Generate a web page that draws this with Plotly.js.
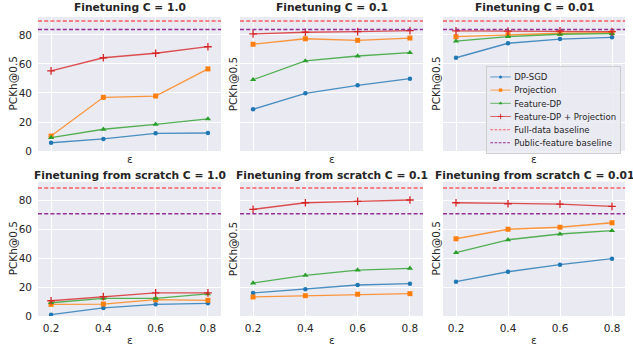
<!DOCTYPE html>
<html><head><meta charset="utf-8">
<script src="https://cdn.plot.ly/plotly-3.0.1.min.js"></script>
<style>html,body{margin:0;padding:0;background:#fff}</style>
</head><body><div id="chart" style="width:633px;height:347px"></div>
<script>
const epsilon = [0.2, 0.4, 0.6, 0.8];
const xTickLabels = ['0.2', '0.4', '0.6', '0.8'];
const yTicks = [0, 20, 40, 60, 80];
const panelTitles = ['Finetuning C = 1.0', 'Finetuning C = 0.1', 'Finetuning C = 0.01',
  'Finetuning from scratch C = 1.0', 'Finetuning from scratch C = 0.1', 'Finetuning from scratch C = 0.01'];
const seriesNames = ['DP-SGD', 'Projection', 'Feature-DP', 'Feature-DP + Projection'];
const dpSgd = [[5.7, 8.3, 12.2, 12.4], [28.8, 39.8, 45.3, 49.9], [64.3, 74.3, 77.2, 78.4],
  [0.9, 5.6, 8.1, 8.8], [16.0, 18.5, 21.5, 22.4], [23.8, 30.7, 35.6, 39.8]];
const projection = [[10.3, 37.0, 37.9, 56.6], [73.6, 77.4, 76.3, 77.9], [78.8, 80.2, 81.2, 81.6],
  [8.1, 8.3, 11.3, 10.9], [13.2, 14.1, 15.1, 15.5], [53.6, 60.2, 61.6, 64.7]];
const featureDp = [[9.2, 15.0, 18.4, 22.1], [49.2, 62.1, 65.5, 67.8], [75.7, 78.8, 80.5, 80.9],
  [9.2, 12.3, 12.3, 15.3], [22.9, 28.2, 31.9, 33.1], [43.9, 52.9, 56.9, 59.2]];
const featureDpProjection = [[55.2, 64.3, 67.4, 71.9], [80.7, 81.9, 82.3, 83.0], [82.8, 82.6, 82.8, 82.3],
  [10.6, 13.4, 16.0, 16.0], [74.0, 78.6, 79.6, 80.5], [78.6, 77.9, 77.7, 76.1]];
const fullDataBaseline = [89.6, 89.6, 89.6, 88.9, 88.9, 88.9];
const publicFeatureBaseline = [83.7, 83.7, 83.7, 70.9, 70.9, 70.9];

const W = 633, H = 347;
const colDom = [[38, 221], [240, 423], [443, 625]];
const rowDom = [[17, 151], [181.7, 316]];
const rowRange = [[0, 92.4], [0, 93.2]];
const lineColors = ['rgba(31,119,180,0.8)', 'rgba(255,127,14,0.8)', 'rgba(44,160,44,0.8)', 'rgba(214,39,40,0.8)'];
const markColors = ['#1f77b4', '#ff7f0e', '#2ca02c', '#d62728'];
const symbols = ['circle', 'square', 'triangle-up', 'cross-thin-open'];
const msizes = [4.5, 5, 5.5, 5.5];
const allSeries = [dpSgd, projection, featureDp, featureDpProjection];
const txt = '#262626';
const FONT = 'DejaVu Sans, sans-serif';

const data = [];
const shapes = [];
const annotations = [];
const layout = {
  width: W, height: H, margin: {l: 0, r: 0, t: 0, b: 0},
  paper_bgcolor: '#ffffff', plot_bgcolor: '#eaeaf2',
  font: {family: FONT, color: txt, size: 10.5},
  showlegend: true,
  legend: {x: 0.98, y: 0.6, xanchor: 'right', yanchor: 'top', bgcolor: 'rgba(234,234,242,0.8)',
    bordercolor: '#cccccc', borderwidth: 1.4, font: {size: 12.6, color: txt, family: FONT},
    itemwidth: 30, tracegroupgap: 0},
  shapes: shapes, annotations: annotations
};

for (let p = 0; p < 6; p++) {
  const row = Math.floor(p / 3), col = p % 3;
  const xa = 'xaxis' + (p + 1), ya = 'yaxis' + (p + 1);
  const xr = 'x' + (p + 1), yr = 'y' + (p + 1);
  layout[xa] = {
    domain: [colDom[col][0] / W, colDom[col][1] / W], range: [0.15, 0.85], anchor: yr,
    tickvals: epsilon, ticktext: xTickLabels, showticklabels: row === 1,
    gridcolor: '#ffffff', gridwidth: 1, zeroline: false, showline: false, ticks: '',
    ticklabelstandoff: 4, tickfont: {size: 10.5, color: txt}
  };
  layout[ya] = {
    domain: [1 - rowDom[row][1] / H, 1 - rowDom[row][0] / H], range: rowRange[row], anchor: xr,
    tickvals: yTicks, showticklabels: col === 0,
    gridcolor: '#ffffff', gridwidth: 1, zeroline: false, showline: false, ticks: '',
    ticklabelstandoff: 5, tickfont: {size: 10.5, color: txt}
  };
  for (let s = 0; s < 4; s++) {
    data.push({
      type: 'scatter', mode: 'lines+markers', x: epsilon, y: allSeries[s][p],
      xaxis: xr, yaxis: yr, name: seriesNames[s], legendgroup: seriesNames[s],
      showlegend: p === 0, legendrank: s + 1,
      line: {color: lineColors[s], width: 1.3},
      marker: {color: markColors[s], symbol: symbols[s], size: msizes[s],
        line: {color: markColors[s], width: s === 3 ? 1.3 : 0}}
    });
  }
  shapes.push({type: 'line', xref: xr + ' domain', yref: yr, x0: 0, x1: 1,
    y0: fullDataBaseline[p], y1: fullDataBaseline[p],
    line: {color: 'rgb(247,94,97)', width: 1.5, dash: '4px,2.2px'},
    showlegend: p === 0, name: 'Full-data baseline', legendrank: 5});
  shapes.push({type: 'line', xref: xr + ' domain', yref: yr, x0: 0, x1: 1,
    y0: publicFeatureBaseline[p], y1: publicFeatureBaseline[p],
    line: {color: 'rgb(149,47,149)', width: 1.5, dash: '4px,2.2px'},
    showlegend: p === 0, name: 'Public-feature baseline', legendrank: 6});
  const cx = (colDom[col][0] + colDom[col][1]) / 2 / W;
  const titleY = row === 0 ? 8 : 175;
  annotations.push({text: '<b>' + panelTitles[p] + '</b>', xref: 'paper', yref: 'paper',
    x: cx, y: 1 - titleY / H, xanchor: 'center', yanchor: 'middle', showarrow: false,
    font: {size: 10.7, color: txt, family: FONT}});
  const epsY = row === 0 ? 158.5 : 339.5;
  annotations.push({text: 'ε', xref: 'paper', yref: 'paper', x: cx, y: 1 - epsY / H,
    xanchor: 'center', yanchor: 'middle', showarrow: false, font: {size: 10.5, color: txt, family: FONT}});
  const ylx = [12.5, 233.3, 435.7][col];
  const cy = (rowDom[row][0] + rowDom[row][1]) / 2;
  annotations.push({text: 'PCKh@0.5', xref: 'paper', yref: 'paper', x: ylx / W, y: 1 - cy / H,
    xanchor: 'center', yanchor: 'middle', textangle: -90, showarrow: false,
    font: {size: 10.5, color: txt, family: FONT}});
}

Plotly.newPlot('chart', data, layout, {staticPlot: true}).then(function (gd) {
  const lg = gd.querySelector('.legend');
  if (lg) lg.setAttribute('transform', 'translate(486,66) scale(0.68)');
});
</script></body></html>
